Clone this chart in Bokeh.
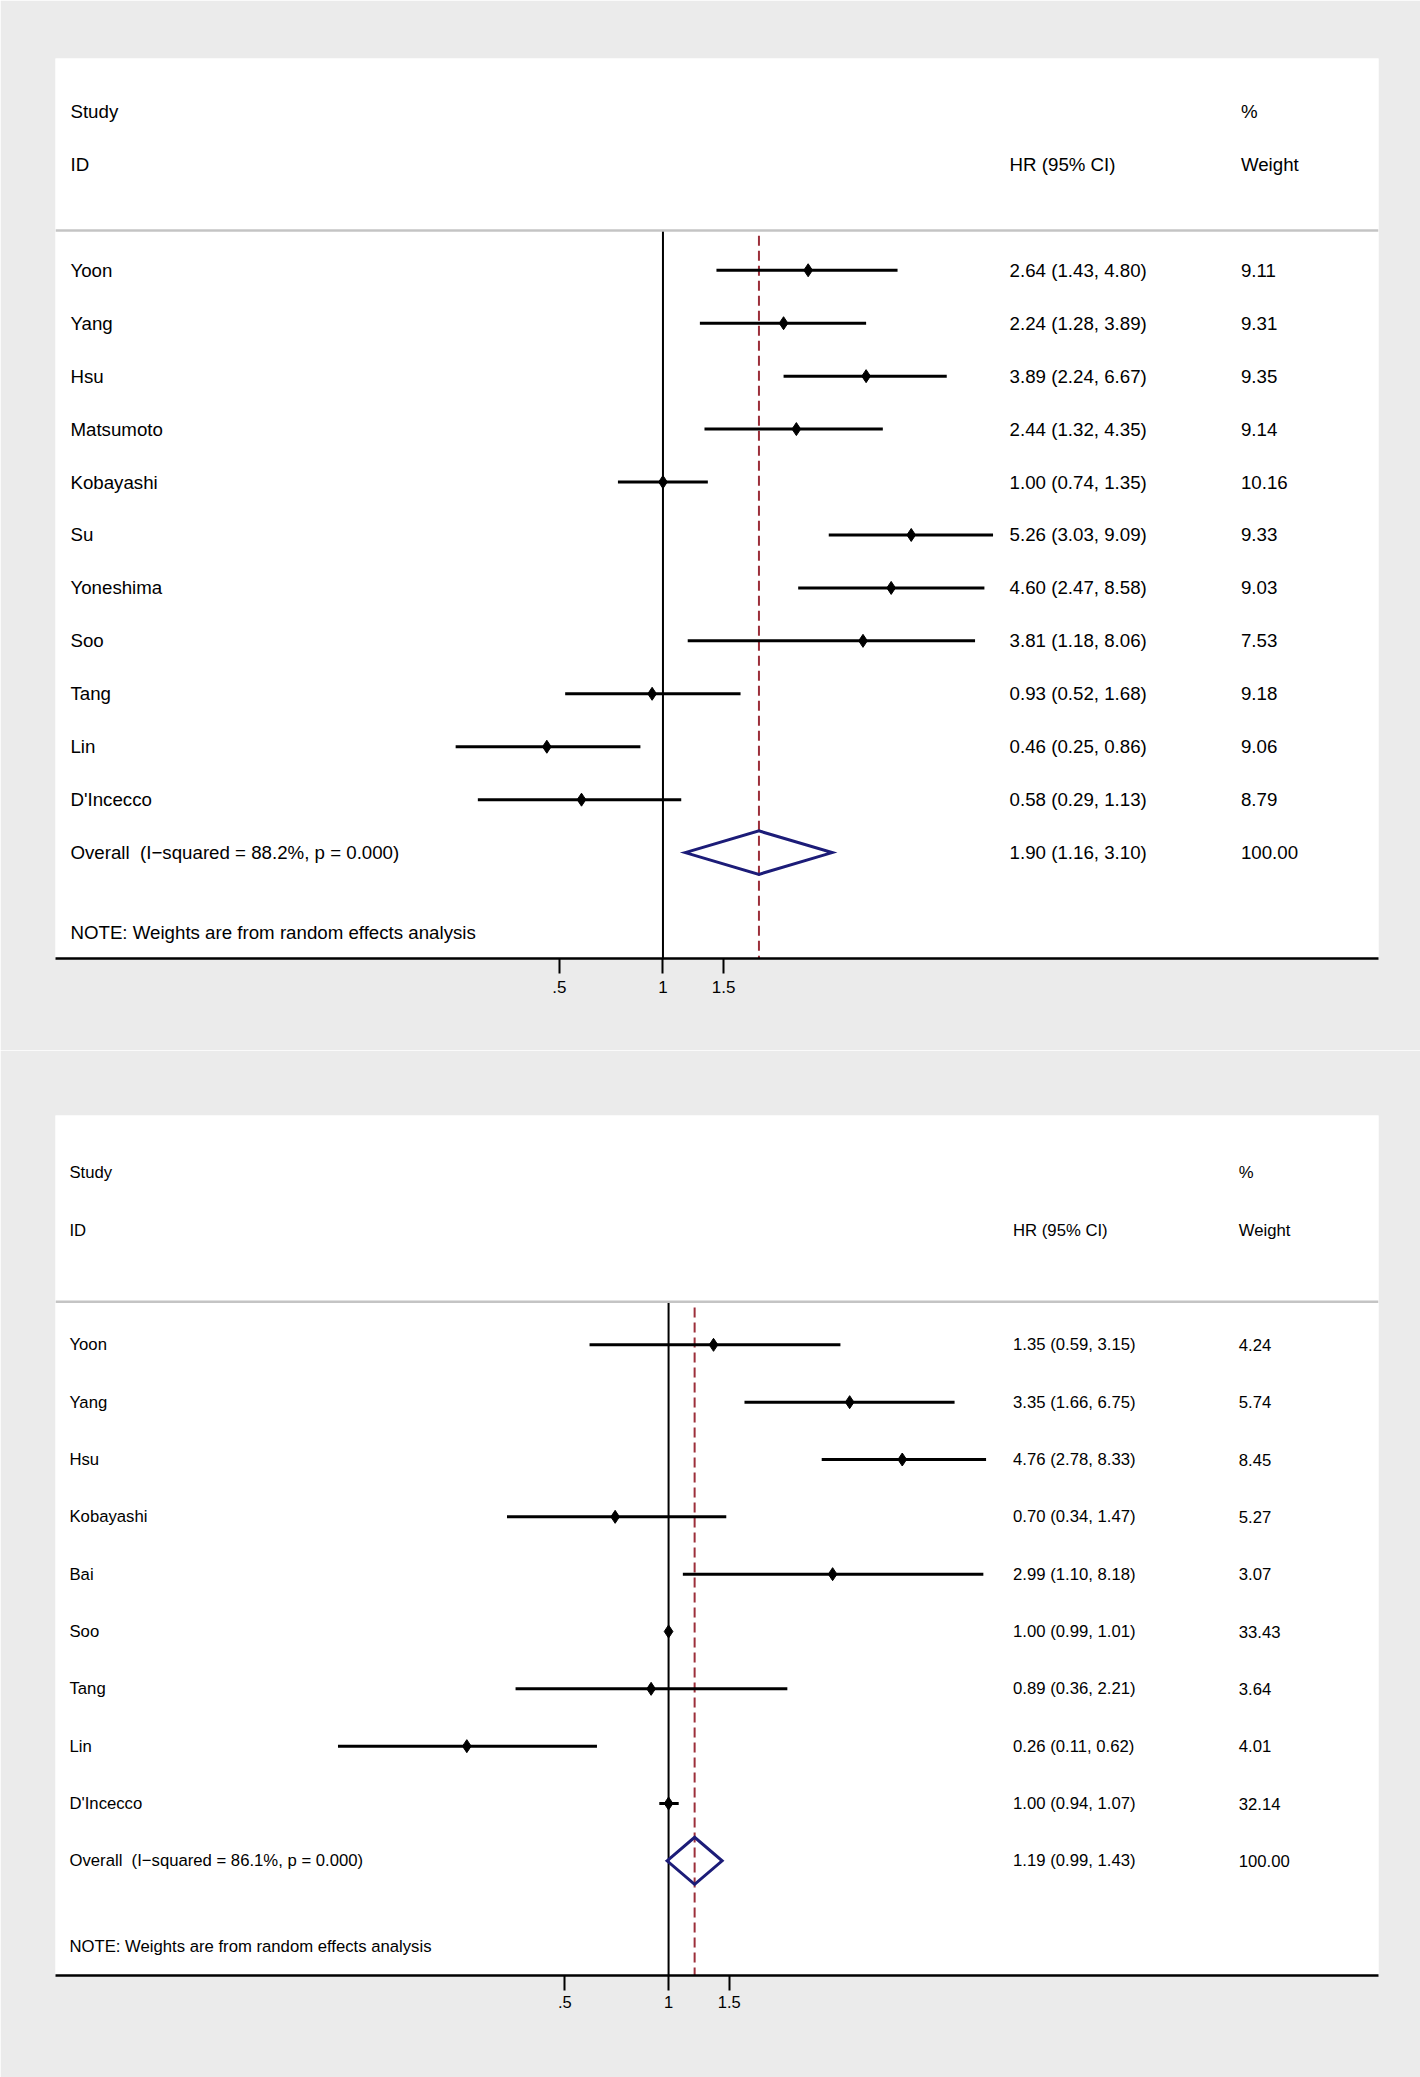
import math
from bokeh.plotting import figure
from bokeh.models import Range1d, FixedTicker, ColumnDataSource, Span
from bokeh.layouts import column
from bokeh.embed import file_html
from bokeh.resources import INLINE
from bokeh.core.properties import value

# ---------------- data: panel A ----------------
a_study = ["Yoon", "Yang", "Hsu", "Matsumoto", "Kobayashi", "Su", "Yoneshima",
           "Soo", "Tang", "Lin", "D'Incecco"]
a_hr = [2.64, 2.24, 3.89, 2.44, 1.00, 5.26, 4.60, 3.81, 0.93, 0.46, 0.58]
a_lo = [1.43, 1.28, 2.24, 1.32, 0.74, 3.03, 2.47, 1.18, 0.52, 0.25, 0.29]
a_hi = [4.80, 3.89, 6.67, 4.35, 1.35, 9.09, 8.58, 8.06, 1.68, 0.86, 1.13]
a_weight = ["9.11", "9.31", "9.35", "9.14", "10.16", "9.33", "9.03", "7.53",
            "9.18", "9.06", "8.79"]
a_overall = [1.90, 1.16, 3.10]
a_overall_label = "Overall\u00a0 (I\u2212squared = 88.2%, p = 0.000)"

# ---------------- data: panel B ----------------
b_study = ["Yoon", "Yang", "Hsu", "Kobayashi", "Bai", "Soo", "Tang", "Lin",
           "D'Incecco"]
b_hr = [1.35, 3.35, 4.76, 0.70, 2.99, 1.00, 0.89, 0.26, 1.00]
b_lo = [0.59, 1.66, 2.78, 0.34, 1.10, 0.99, 0.36, 0.11, 0.94]
b_hi = [3.15, 6.75, 8.33, 1.47, 8.18, 1.01, 2.21, 0.62, 1.07]
b_weight = ["4.24", "5.74", "8.45", "5.27", "3.07", "33.43", "3.64", "4.01",
            "32.14"]
b_overall = [1.19, 0.99, 1.43]
b_overall_label = "Overall\u00a0 (I\u2212squared = 86.1%, p = 0.000)"

tick_values = [0.5, 1, 1.5]
tick_labels = [".5", "1", "1.5"]
note_text = "NOTE: Weights are from random effects analysis"

FONT = value("Liberation Sans")
BG = "#ebebeb"
NAVY = "#1c1c78"
MAROON = "#9c2f3a"
PAGE_W = 1420


def build_panel(study, hr, lo, hi, weight, overall, overall_label,
                height, border_top, frame_h, border_left, frame_w,
                one_px, px_per_ln, col_px, font_size, tick_font_size,
                standoff):
    n = len(study)
    y_top = -4.0
    y_bot = n + 2.0           # overall row, note row, half-row margin
    note_y = n + 1.5
    left_px = border_left
    right_px = left_px + frame_w

    def x_at(px):
        return math.exp((px - one_px) / px_per_ln)

    p = figure(width=PAGE_W, height=height, title=None, toolbar_location=None,
               output_backend="svg", x_axis_type="log", y_axis_location=None,
               x_range=Range1d(x_at(left_px), x_at(right_px)),
               y_range=Range1d(y_bot, y_top),
               min_border_left=border_left,
               min_border_right=PAGE_W - border_left - frame_w,
               min_border_top=border_top,
               min_border_bottom=height - border_top - frame_h)
    p.background_fill_color = "white"
    p.border_fill_color = BG
    p.outline_line_color = None
    p.xgrid.visible = False
    p.ygrid.visible = False

    ax = p.xaxis[0]
    ax.ticker = FixedTicker(ticks=tick_values)
    ax.major_label_overrides = {v: l for v, l in zip(tick_values, tick_labels)}
    ax.minor_tick_line_color = None
    ax.axis_line_width = 2.5
    ax.axis_line_color = "black"
    ax.major_tick_line_width = 2
    ax.major_tick_line_color = "black"
    ax.major_tick_out = 15
    ax.major_tick_in = 0
    ax.major_label_standoff = standoff
    ax.major_label_text_font = "Liberation Sans"
    ax.major_label_text_font_size = tick_font_size
    ax.major_label_text_color = "black"

    sep_y = -0.75
    rows = list(range(n))
    ov_row = n

    # header separator
    p.add_layout(Span(location=sep_y, dimension="width", line_color="#c4c4c4",
                      line_width=2.5))
    # null line
    p.segment(x0=[1], x1=[1], y0=[sep_y], y1=[y_bot], line_color="black",
              line_width=2)
    # pooled estimate line
    p.segment(x0=[overall[0]], x1=[overall[0]], y0=[sep_y + 0.1], y1=[y_bot],
              line_color=MAROON, line_width=2, line_dash="10 5")
    # CIs
    p.segment(x0=lo, x1=hi, y0=rows, y1=rows, line_color="black", line_width=3)
    p.scatter(x=hr, y=rows, marker="diamond", size=13, fill_color="black",
              line_color="black", line_width=1)
    # overall diamond
    h = 0.41
    p.patch(x=[overall[1], overall[0], overall[2], overall[0]],
            y=[ov_row, ov_row - h, ov_row, ov_row + h],
            fill_alpha=0, line_color=NAVY, line_width=3, line_join="miter")

    # texts
    lab_x, hr_x, w_x = col_px
    xs, ys, ts = [], [], []
    hdr = [(lab_x, -3, "Study"), (lab_x, -2, "ID"), (hr_x, -2, "HR (95% CI)"),
           (w_x, -3, "%"), (w_x, -2, "Weight")]
    for px, yy, t in hdr:
        xs.append(x_at(px)); ys.append(yy); ts.append(t)
    for i in range(n):
        xs += [x_at(lab_x), x_at(hr_x), x_at(w_x)]
        ys += [i, i, i]
        ts += [study[i], f"{hr[i]:.2f} ({lo[i]:.2f}, {hi[i]:.2f})", weight[i]]
    xs += [x_at(lab_x), x_at(hr_x), x_at(w_x)]
    ys += [ov_row] * 3
    ts += [overall_label,
           f"{overall[0]:.2f} ({overall[1]:.2f}, {overall[2]:.2f})", "100.00"]
    xs.append(x_at(lab_x)); ys.append(note_y); ts.append(note_text)
    src = ColumnDataSource(dict(x=xs, y=ys, text=ts))
    p.text(x="x", y="y", text="text", source=src, text_font=FONT,
           text_font_size=font_size, text_baseline="middle", text_align="left",
           text_color="black")
    return p


H1 = 1050
p1 = build_panel(a_study, a_hr, a_lo, a_hi, a_weight, a_overall, a_overall_label,
                 height=H1, border_top=58, frame_h=900, border_left=55,
                 frame_w=1327, one_px=664.3, px_per_ln=150.0,
                 col_px=(70, 1012, 1244), font_size="18.7px",
                 tick_font_size="17px", standoff=7)
p2 = build_panel(b_study, b_hr, b_lo, b_hi, b_weight, b_overall, b_overall_label,
                 height=2077 - H1, border_top=1115 - H1, frame_h=860,
                 border_left=53, frame_w=1325, one_px=667.0, px_per_ln=150.0,
                 col_px=(67, 1012, 1238), font_size="16.7px",
                 tick_font_size="16.5px", standoff=5)

layout = column(p1, p2, spacing=0)
open("out.html", "w").write(file_html(layout, INLINE))
